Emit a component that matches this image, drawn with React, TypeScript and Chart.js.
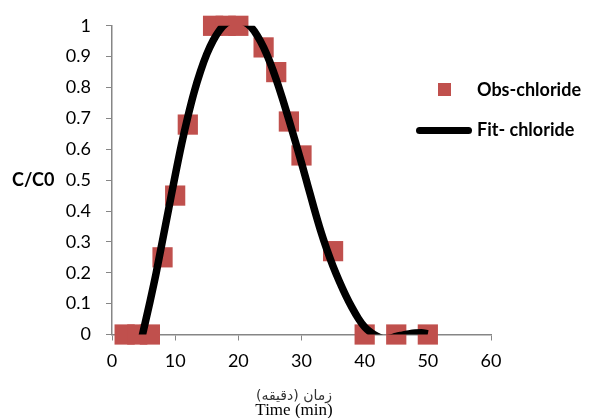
import React, { useEffect, useRef } from "react";
import { Chart, registerables } from "chart.js";

Chart.register(...registerables);

// Observed chloride breakthrough (time in min, C/C0)
const obsX = [2, 4, 6, 8, 10, 12, 16, 18, 20, 24, 26, 28, 30, 35, 40, 45, 50];
const obsY = [0, 0, 0, 0.25, 0.45, 0.68, 1, 1, 1, 0.93, 0.85, 0.69, 0.58, 0.27, 0, 0, 0];

// Fitted curve
const fitX = [4, 5, 6, 7, 8, 9, 10, 11, 12, 13, 14, 15, 16, 17, 18, 19, 20, 21, 22, 23, 24, 25, 26, 27, 28, 29, 30, 31, 32, 33, 34, 35, 36, 37, 38, 39, 40, 41, 42, 43, 44, 45, 46, 47, 48, 49, 50];
const fitY = [-0.075, 0.015, 0.105, 0.2, 0.305, 0.41, 0.515, 0.615, 0.705, 0.785, 0.852, 0.908, 0.952, 0.985, 1.007, 1.018, 1.02, 1.012, 0.996, 0.968, 0.93, 0.882, 0.826, 0.763, 0.696, 0.627, 0.556, 0.482, 0.408, 0.338, 0.276, 0.221, 0.172, 0.127, 0.087, 0.052, 0.024, 0.006, -0.006, -0.014, -0.012, -0.006, -0.002, 0.002, 0.005, 0.006, 0.002];

const xTickLabels = ["0", "10", "20", "30", "40", "50", "60"];
const yTickLabels = ["0", "0.1", "0.2", "0.3", "0.4", "0.5", "0.6", "0.7", "0.8", "0.9", "1"];

const seriesObs = "Obs-chloride";
const seriesFit = "Fit- chloride";
const yTitle = "C/C0";
const xTitleFa = "زمان (دقیقه)";
const xTitleEn = "Time (min)";

const RED = "#c0504d";
const AXIS = "#868686";

export default function App() {
  const ref = useRef<HTMLCanvasElement | null>(null);

  useEffect(() => {
    if (!ref.current) return;
    const chart = new Chart(ref.current, {
      type: "scatter",
      data: {
        datasets: [
          {
            label: seriesFit,
            data: fitX.map((x, i) => ({ x, y: fitY[i] })),
            showLine: true,
            borderColor: "#000",
            backgroundColor: "#000",
            borderWidth: 7.5,
            pointRadius: 0,
            cubicInterpolationMode: "monotone",
            fill: false,
            clip: 0,
          } as any,
          {
            label: seriesObs,
            data: obsX.map((x, i) => ({ x, y: obsY[i] })),
            pointStyle: "rect",
            pointRadius: 14.3,
            pointBackgroundColor: RED,
            pointBorderColor: RED,
            pointBorderWidth: 0,
            backgroundColor: RED,
            borderColor: RED,
            clip: false,
          } as any,
        ],
      },
      options: {
        animation: false,
        responsive: true,
        maintainAspectRatio: false,
        layout: { padding: { top: 23.5, right: 99, left: 0, bottom: 0 } },
        plugins: {
          legend: { display: false },
          tooltip: { enabled: false },
        },
        scales: {
          x: {
            type: "linear",
            min: 0,
            max: 60,
            ticks: {
              stepSize: 10,
              color: "#000",
              font: { family: "Lato", size: 18 },
              padding: 10,
              maxRotation: 0,
              callback: (_v: any, i: number) => xTickLabels[i],
            },
            grid: {
              display: true,
              drawOnChartArea: false,
              drawTicks: true,
              tickLength: 6,
              color: AXIS,
              lineWidth: 1,
            },
            border: { display: true, color: AXIS, width: 1.5 },
            afterFit: (s: any) => {
              s.height = 83.5;
            },
          },
          y: {
            type: "linear",
            min: 0,
            max: 1,
            ticks: {
              stepSize: 0.1,
              color: "#000",
              font: { family: "Lato", size: 18 },
              padding: 15,
              callback: (_v: any, i: number) => yTickLabels[i],
            },
            grid: {
              display: true,
              drawOnChartArea: false,
              drawTicks: true,
              tickLength: 6,
              color: AXIS,
              lineWidth: 1,
            },
            border: { display: true, color: AXIS, width: 1.5 },
            afterFit: (s: any) => {
              s.width = 112;
            },
          },
        },
      } as any,
    });
    return () => chart.destroy();
  }, []);

  const abs: React.CSSProperties = { position: "absolute", whiteSpace: "nowrap", lineHeight: 1.2 };

  return (
    <div style={{ position: "fixed", left: 0, top: 0, width: 590, height: 418, background: "#fff", overflow: "hidden" }}>
      <canvas ref={ref} style={{ position: "absolute", left: 0, top: 0 }} />
      {/* Y title */}
      <div style={{ ...abs, left: 12, top: 180, transform: "translateY(-50%)", fontFamily: "Lato", fontWeight: 700, fontSize: 18, color: "#000" }}>
        {yTitle}
      </div>
      {/* Legend */}
      <div style={{ position: "absolute", left: 438, top: 83, width: 13, height: 13, background: RED }} />
      <div style={{ ...abs, left: 477, top: 90, transform: "translateY(-50%)", fontFamily: "Lato", fontWeight: 700, fontSize: 18, color: "#000" }}>
        {seriesObs}
      </div>
      <div style={{ position: "absolute", left: 416, top: 126.5, width: 56, height: 7, borderRadius: 3.5, background: "#000" }} />
      <div style={{ ...abs, left: 477, top: 130, transform: "translateY(-50%)", fontFamily: "Lato", fontWeight: 700, fontSize: 18, color: "#000" }}>
        {seriesFit}
      </div>
      {/* X titles */}
      <div dir="rtl" style={{ ...abs, left: 294, top: 395, transform: "translate(-50%, -50%)", fontFamily: "'DejaVu Sans'", fontSize: 14, color: "#333" }}>
        {xTitleFa}
      </div>
      <div style={{ ...abs, left: 294, top: 410, transform: "translate(-50%, -50%)", fontFamily: "'Liberation Serif'", fontSize: 17, color: "#000" }}>
        {xTitleEn}
      </div>
    </div>
  );
}
